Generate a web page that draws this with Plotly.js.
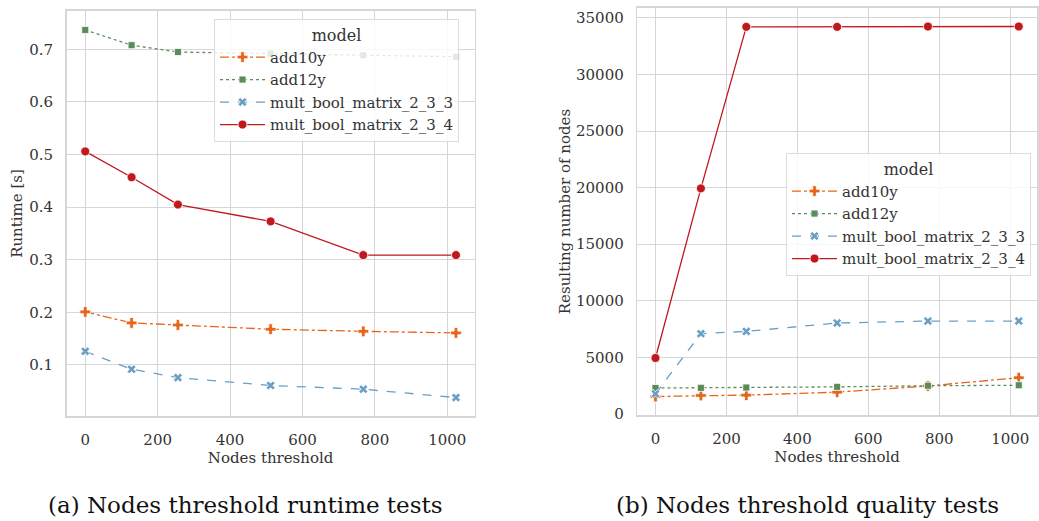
<!DOCTYPE html>
<html>
<head>
<meta charset="utf-8">
<script src="https://cdn.plot.ly/plotly-3.0.1.min.js"></script>
<style>html,body{margin:0;padding:0;background:#fff}#chart{width:1039px;height:521px}</style>
</head>
<body>
<div id="chart"></div>
<script>
// ---- data ----
const thresholds = [0, 128, 256, 512, 768, 1024];
const models = ["add10y", "add12y", "mult_bool_matrix_2_3_3", "mult_bool_matrix_2_3_4"];

const runtimeAdd10y  = [0.201, 0.180, 0.176, 0.168, 0.164, 0.161];
const runtimeAdd12y  = [0.737, 0.708, 0.695, 0.692, 0.689, 0.686];
const runtimeMult233 = [0.126, 0.092, 0.076, 0.061, 0.054, 0.038];
const runtimeMult234 = [0.506, 0.457, 0.405, 0.373, 0.309, 0.309];

const nodesAdd10y  = [1550, 1640, 1670, 1930, 2480, 3210];
const nodesAdd12y  = [2300, 2310, 2340, 2400, 2500, 2540];
const nodesMult233 = [1790, 7100, 7300, 8040, 8210, 8210];
const nodesMult234 = [4950, 19930, 34200, 34200, 34230, 34230];

const xTicks = [0, 200, 400, 600, 800, 1000];
const runtimeTicks = [0.1, 0.2, 0.3, 0.4, 0.5, 0.6, 0.7];
const nodesTicks = [0, 5000, 10000, 15000, 20000, 25000, 30000, 35000];

const captions = ["(a) Nodes threshold runtime tests", "(b) Nodes threshold quality tests"];

// ---- styles ----
const FONT = "DejaVu Serif";
const colors = ["#e5661b", "#5b8a5b", "#6a9fc4", "#c1181e"];
const dashes = ["dashdot", "dot", "dash", "solid"];
const symbols = ["cross", "square", "x", "circle"];
const sizes = [9, 7, 8, 9];

const runtime = [runtimeAdd10y, runtimeAdd12y, runtimeMult233, runtimeMult234];
const nodes = [nodesAdd10y, nodesAdd12y, nodesMult233, nodesMult234];

const traces = [];
models.forEach((m, i) => {
  const common = () => ({
    mode: "lines+markers", name: m,
    line: {color: colors[i], dash: dashes[i], width: 1.3},
    marker: {symbol: symbols[i], size: sizes[i], color: colors[i], line: {color: "#fff", width: 0.8}}
  });
  traces.push(Object.assign({x: thresholds, y: runtime[i], xaxis: "x", yaxis: "y", legend: "legend"}, common()));
  traces.push(Object.assign({x: thresholds, y: nodes[i], xaxis: "x2", yaxis: "y2", legend: "legend2"}, common()));
});

const grid = "#d6d6d6";
const txt = "#333";
function ax(extra) {
  return Object.assign({
    showgrid: true, gridcolor: grid, gridwidth: 1, zeroline: false,
    showline: true, linecolor: grid, linewidth: 1.6, mirror: true,
    ticks: "outside", ticklen: 9, tickcolor: "rgba(0,0,0,0)",
    tickfont: {family: FONT, size: 15, color: txt}
  }, extra);
}
function ttl(t, s) { return {text: t, standoff: s, font: {family: FONT, size: 15, color: txt}}; }

function legendBase() {
  return {
    bgcolor: "rgba(255,255,255,0.82)", bordercolor: "#dcdcdc", borderwidth: 1,
    font: {family: FONT, size: 15, color: txt},
    title: {text: "model", side: "top center", font: {family: FONT, size: 16, color: txt}},
    xanchor: "left", yanchor: "top", tracegroupgap: 0, itemwidth: 45
  };
}

const layout = {
  width: 1039, height: 521,
  margin: {l: 0, r: 0, t: 0, b: 0},
  paper_bgcolor: "#fff", plot_bgcolor: "#fff",
  showlegend: true,
  xaxis: ax({domain: [0.0642, 0.4567], range: [-51.2, 1075.2], tickvals: xTicks, anchor: "y",
             title: ttl("Nodes threshold", 2)}),
  yaxis: ax({domain: [0.2015, 0.9789], range: [0.003, 0.773], tickvals: runtimeTicks, anchor: "x",
             title: ttl("Runtime [s]", 3)}),
  xaxis2: ax({domain: [0.6134, 0.998], range: [-51.2, 1075.2], tickvals: xTicks, anchor: "y2",
             title: ttl("Nodes threshold", 2)}),
  yaxis2: ax({domain: [0.2035, 0.9846], range: [-84, 35864], tickvals: nodesTicks, tickformat: "d", anchor: "x2",
             title: ttl("Resulting number of nodes", 2)}),
  legend: Object.assign(legendBase(), {x: 214/1039, y: 1 - 19/521}),
  legend2: Object.assign(legendBase(), {x: 786/1039, y: 1 - 153/521}),
  annotations: [
    {text: captions[0], xref: "paper", yref: "paper", x: 245/1039, y: 1 - 505/521, xanchor: "center", yanchor: "middle", showarrow: false,
     font: {family: FONT, size: 23, color: "#111"}},
    {text: captions[1], xref: "paper", yref: "paper", x: 807/1039, y: 1 - 505/521, xanchor: "center", yanchor: "middle", showarrow: false,
     font: {family: FONT, size: 23, color: "#111"}}
  ]
};

Plotly.newPlot("chart", traces, layout, {displayModeBar: false, staticPlot: true});
</script>
</body>
</html>
